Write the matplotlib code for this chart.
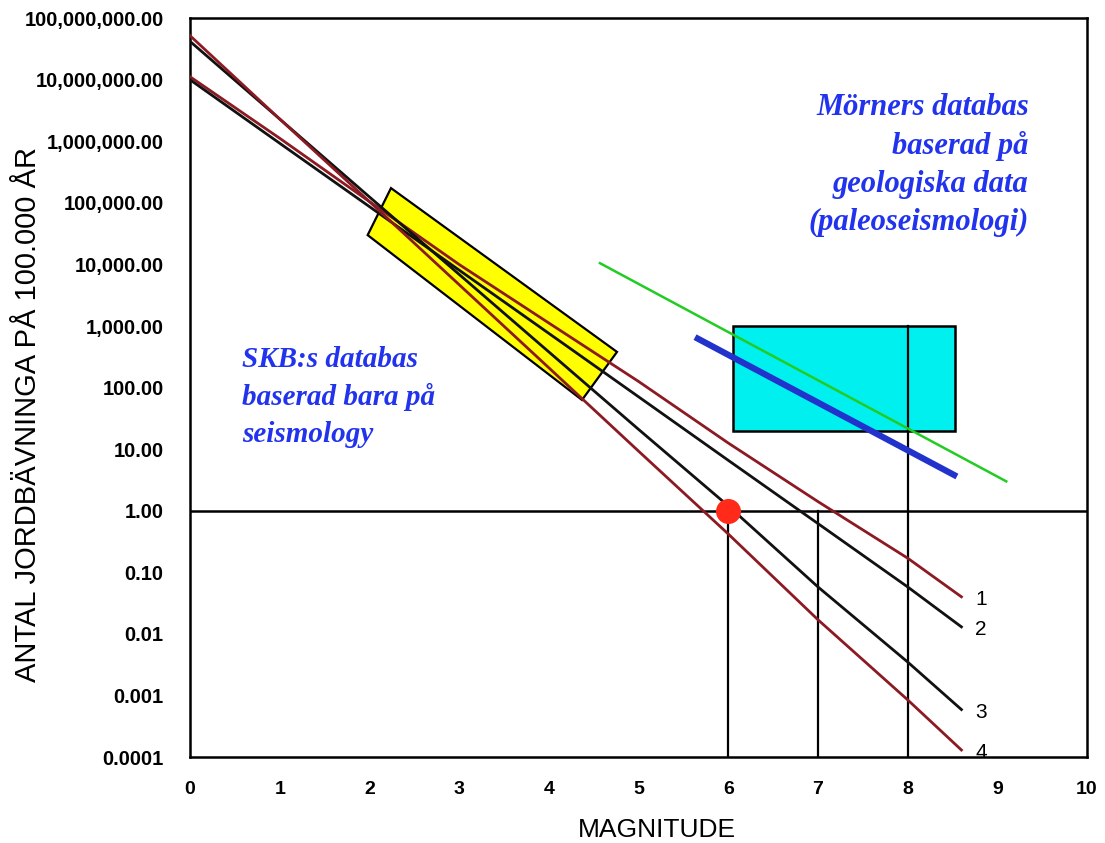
import matplotlib
matplotlib.use('Agg')
import matplotlib.pyplot as plt
from matplotlib.patches import Polygon, Rectangle

# magnitude points along the four recurrence curves
mag = [0, 1, 2, 3, 4, 5, 6, 7, 8, 8.6]
curve1 = [1.12e7, 1.12e6, 1.05e5, 1.0e4, 1.12e3, 126, 12.6, 1.41, 0.17, 0.040]
curve2 = [1.0e7, 9.3e5, 8.7e4, 8.1e3, 760, 71, 6.6, 0.62, 0.058, 0.013]
curve3 = [4.2e7, 2.3e6, 1.25e5, 6.9e3, 380, 21, 1.2, 0.058, 0.0035, 5.9e-4]
curve4 = [5.2e7, 2.3e6, 1.05e5, 4.7e3, 210, 9.3, 0.42, 0.017, 8.5e-4, 1.3e-4]
curve_labels = ['1', '2', '3', '4']

# yellow box (SKB data range), corners
skb_x = [2.24, 1.98, 4.37, 4.76]
skb_y = [1.74e5, 3.0e4, 63, 380]

# cyan box (Mörner data range)
morner_x = [6.05, 8.53]
morner_y = [20, 1000]

blue_x = [5.63, 8.55]
blue_y = [660, 3.6]
green_x = [4.57, 9.1]
green_y = [1.05e4, 3.0]

dot_x, dot_y = 6, 1
marker_mags = [6, 7, 8]
marker_tops = [1, 1, 1000]

yticks = [1e8, 1e7, 1e6, 1e5, 1e4, 1e3, 100, 10, 1, 0.1, 0.01, 0.001, 0.0001]
ytick_labels = ['100,000,000.00', '10,000,000.00', '1,000,000.00', '100,000.00',
                '10,000.00', '1,000.00', '100.00', '10.00', '1.00', '0.10',
                '0.01', '0.001', '0.0001']
xticks = list(range(11))

fig = plt.figure(figsize=(11.05, 8.43), dpi=100)
ax = fig.add_axes([0.172, 0.102, 0.8117, 0.8764])
ax.set_yscale('log')
ax.set_xlim(0, 10)
ax.set_ylim(1e-4, 1e8)

ax.add_patch(Polygon(list(zip(skb_x, skb_y)), closed=True, facecolor='#ffff00',
                     edgecolor='black', lw=1.6, zorder=2))
ax.add_patch(Rectangle((morner_x[0], morner_y[0]), morner_x[1] - morner_x[0],
                       morner_y[1] - morner_y[0], facecolor='#00f0f0',
                       edgecolor='black', lw=1.8, zorder=2))

ax.axhline(1, color='black', lw=1.8, zorder=3)
for m, top in zip(marker_mags, marker_tops):
    ax.plot([m, m], [1e-4, top], color='black', lw=1.6, zorder=3)

ax.plot(green_x, green_y, color='#22cc22', lw=1.8, zorder=4)
ax.plot(blue_x, blue_y, color='#2233cc', lw=4.5, zorder=4, solid_capstyle='butt')

colors = ['#8b1a22', '#111111', '#111111', '#8b1a22']
for c, ys, lab in zip(colors, [curve1, curve2, curve3, curve4], curve_labels):
    ax.plot(mag, ys, color=c, lw=2.0, zorder=5)
    ax.annotate(lab, (mag[-1], ys[-1]), xytext=(10, -2), textcoords='offset points',
                fontsize=15, family='Liberation Sans', va='center', ha='left')

ax.plot(dot_x, dot_y, 'o', color='#ff2a1a', ms=17, zorder=6)

ax.text(0.58, 70, 'SKB:s databas\nbaserad bara på\nseismology', color='#2233ee',
        fontsize=21, family='Liberation Serif', style='italic', weight='bold',
        va='center', ha='left', linespacing=1.45)
ax.text(9.35, 4.1e5, 'Mörners databas\nbaserad på\ngeologiska data\n(paleoseismologi)',
        color='#2233ee', fontsize=22, family='Liberation Serif', style='italic',
        weight='bold', va='center', ha='right', linespacing=1.4)

ax.set_yticks(yticks)
ax.set_yticklabels(ytick_labels)
ax.minorticks_off()
ax.set_xticks(xticks)
ax.tick_params(length=0)
ax.tick_params(axis='y', pad=19, labelsize=14.5)
ax.tick_params(axis='x', pad=17, labelsize=14)
for t in ax.get_xticklabels() + ax.get_yticklabels():
    t.set_family('Liberation Sans')
    t.set_weight('bold')

for s in ax.spines.values():
    s.set_linewidth(1.8)

ax.set_xlabel('MAGNITUDE', fontsize=19, family='Liberation Sans')
ax.xaxis.set_label_coords(0.52, -0.083)
ax.set_ylabel('ANTAL JORDBÄVNINGA PÅ 100.000 ÅR', fontsize=21,
              family='Liberation Sans')
ax.yaxis.set_label_coords(-0.165, 0.463)

fig.savefig('out.png', dpi=100)
